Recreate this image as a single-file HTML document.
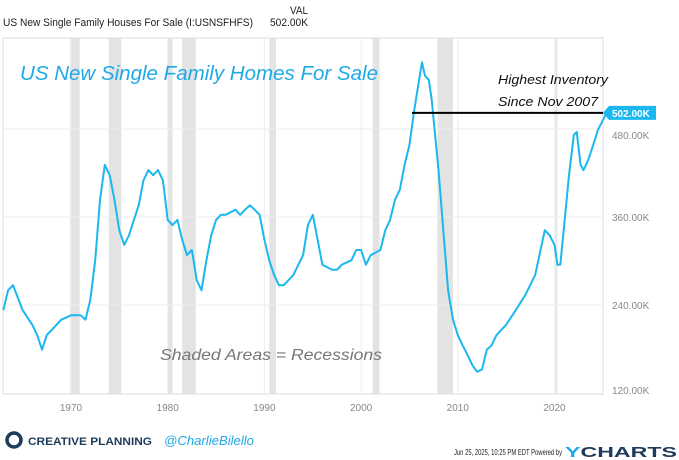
<!DOCTYPE html>
<html><head><meta charset="utf-8"><style>
body{margin:0;background:#fff;width:679px;height:460px;overflow:hidden;font-family:"Liberation Sans",sans-serif}
svg{position:absolute;left:0;top:0}
</style></head><body>
<svg id="c" width="679" height="460">
<text x="3" y="26" font-size="11" fill="#222" textLength="250" lengthAdjust="spacingAndGlyphs">US New Single Family Houses For Sale (I:USNSFHFS)</text>
<text x="290" y="14" font-size="11" fill="#222" textLength="18" lengthAdjust="spacingAndGlyphs">VAL</text>
<text x="270" y="26" font-size="11" fill="#222" textLength="38" lengthAdjust="spacingAndGlyphs">502.00K</text>
<rect x="3" y="38" width="600" height="356" fill="none" stroke="#ddd"/>
<g id="rec"></g><g id="grid"></g>
<text x="20" y="80" font-size="20" font-style="italic" fill="#1fa9e6" textLength="358" lengthAdjust="spacingAndGlyphs">US New Single Family Homes For Sale</text>
<text x="160" y="360" font-size="16" font-style="italic" fill="#777" textLength="222" lengthAdjust="spacingAndGlyphs">Shaded Areas = Recessions</text>
<text x="498" y="84" font-size="13" font-style="italic" fill="#111" textLength="110" lengthAdjust="spacingAndGlyphs">Highest Inventory</text>
<text x="498" y="106" font-size="13" font-style="italic" fill="#111" textLength="100" lengthAdjust="spacingAndGlyphs">Since Nov 2007</text>
<path id="line" fill="none" stroke="#1ab8ee" stroke-width="2" stroke-linejoin="round"/>
<line id="hl" x1="412" x2="603" stroke="#000" stroke-width="2"/>
<g id="lab"></g>
<circle cx="14" cy="440" r="7" fill="none" stroke="#1d3b5a" stroke-width="3.5"/>
<text x="28" y="445" font-size="11" font-weight="bold" fill="#1d3b5a" textLength="124" lengthAdjust="spacingAndGlyphs">CREATIVE PLANNING</text>
<text x="164" y="445" font-size="13" font-style="italic" fill="#1fa9e6" textLength="90" lengthAdjust="spacingAndGlyphs">@CharlieBilello</text>
<text x="454" y="455" font-size="8" fill="#222" textLength="108" lengthAdjust="spacingAndGlyphs">Jun 25, 2025, 10:25 PM EDT Powered by</text>
<text x="565" y="457" font-size="15" font-weight="bold" fill="#1d3b5a" textLength="112" lengthAdjust="spacingAndGlyphs"><tspan fill="#1fa9e6">Y</tspan>CHARTS</text>
</svg>
<script>
const years=[1963,1963.5,1964,1965,1966,1966.5,1967,1967.5,1968,1969,1970,1971,1971.5,1972,1972.5,1973,1973.5,1974,1974.5,1975,1975.5,1976,1976.5,1977,1977.5,1978,1978.5,1979,1979.5,1980,1980.5,1981,1981.5,1982,1982.5,1983,1983.5,1984,1984.5,1985,1985.5,1986,1987,1987.5,1988,1988.5,1989,1989.5,1990,1990.5,1991,1991.5,1992,1992.5,1993,1994,1994.5,1995,1995.5,1996,1997,1997.5,1998,1999,1999.5,2000,2000.5,2001,2002,2002.5,2003,2003.5,2004,2004.5,2005,2005.5,2006,2006.3,2006.6,2007,2007.3,2007.6,2008,2008.5,2009,2009.5,2010,2010.5,2011,2011.5,2012,2012.5,2013,2013.5,2014,2015,2016,2017,2018,2019,2019.5,2020,2020.3,2020.6,2021,2021.5,2022,2022.3,2022.7,2023,2023.5,2024,2024.5,2025,2025.4];
const values=[233,260,267,233,213,199,179,199,206,220,226,226,220,247,301,383,431,417,383,342,322,335,356,376,410,424,417,424,410,356,349,356,329,308,315,274,260,301,335,356,363,363,370,363,370,376,370,363,329,301,281,267,267,274,281,308,349,363,329,295,288,288,295,301,315,315,295,308,315,342,356,383,397,431,458,506,547,571,553,547,520,479,424,342,260,220,199,185,172,158,149,152,179,185,199,213,233,254,281,342,335,322,295,295,349,417,472,476,431,424,438,458,479,492,502];
const recessions=[[1969.9,1970.9],[1973.9,1975.2],[1980.0,1980.5],[1981.5,1982.9],[1990.5,1991.2],[2001.2,2001.9],[2007.9,2009.5],[2020.1,2020.3]];
const xTicks=[1970,1980,1990,2000,2010,2020];
const yTicks=[120,240,360,480];
const lastValue=502;
const X=y=>71+(y-1970)*9.67;
const Y=v=>305-(v-240)*88/120;
const NS='http://www.w3.org/2000/svg';
function mk(t,a,p){const e=document.createElementNS(NS,t);for(const k in a)e.setAttribute(k,a[k]);p.appendChild(e);return e;}
const rec=document.getElementById('rec'),grid=document.getElementById('grid'),lab=document.getElementById('lab');
recessions.forEach(r=>{const e=mk('rect',{x:X(r[0]),y:38,width:X(r[1])-X(r[0]),height:356,fill:'#e3e3e3'},rec);

});
xTicks.forEach(t=>{const l=mk('line',{x1:X(t),x2:X(t),y1:38,y2:394,stroke:'#eee'},grid);


const e=mk('text',{x:X(t),y:411,'font-size':10,fill:'#888','text-anchor':'middle'},lab);e.textContent=t;

});
yTicks.forEach(t=>{if(t>120){const l=mk('line',{x1:3,x2:603,y1:Y(t),y2:Y(t),stroke:'#eee'},grid);

}
const e=mk('text',{x:612,y:Math.min(Y(t),390)+(t==480?10:4),'font-size':10,fill:'#888'},lab);e.textContent=t.toFixed(2)+'K';

});
document.getElementById('line').setAttribute('d',years.map((y,i)=>(i?'L':'M')+X(y).toFixed(1)+','+Y(values[i]).toFixed(1)).join(''));
const hy=Y(lastValue);const hl=document.getElementById('hl');hl.setAttribute('y1',hy);hl.setAttribute('y2',hy);
const tag=mk('path',{d:`M603,${hy} L609,${hy-7} L656,${hy-7} L656,${hy+7} L609,${hy+7} Z`,fill:'#1ab8ee'},lab);


const tt=mk('text',{x:612,y:hy+4,'font-size':10,'font-weight':'bold',fill:'#fff'},lab);tt.textContent=lastValue.toFixed(2)+'K';


</script>
</body></html>
